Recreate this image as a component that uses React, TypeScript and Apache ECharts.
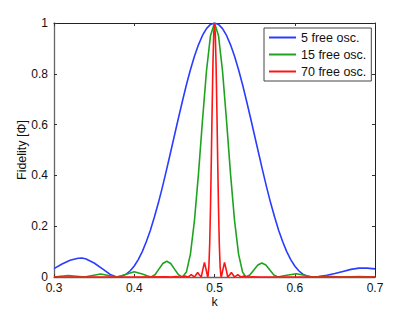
import React, { useEffect, useRef } from "react";
import * as echarts from "echarts";

const seriesNames = ["5 free osc.", "15 free osc.", "70 free osc."];
const seriesColors = ["#2a3dff", "#1fa31f", "#ff1414"];

// 5 free oscillators
const k5 = [
  0.3, 0.31, 0.32, 0.33, 0.335, 0.34, 0.35, 0.36, 0.37, 0.378, 0.385, 0.39, 0.395, 0.4, 0.405, 0.41,
  0.415, 0.42, 0.425, 0.43, 0.435, 0.44, 0.445, 0.45, 0.455, 0.46, 0.465, 0.47, 0.475, 0.48, 0.485,
  0.49, 0.495, 0.5, 0.505, 0.51, 0.515, 0.52, 0.525, 0.53, 0.535, 0.54, 0.545, 0.55, 0.555, 0.56,
  0.565, 0.57, 0.575, 0.58, 0.585, 0.59, 0.595, 0.6, 0.605, 0.61, 0.615, 0.622, 0.63, 0.64, 0.65,
  0.66, 0.67, 0.68, 0.69, 0.7,
];
const f5 = [
  0.033, 0.051, 0.066, 0.074, 0.075, 0.071, 0.055, 0.033, 0.01, 0.0, 0.0037, 0.0114, 0.0246, 0.0435,
  0.0686, 0.1, 0.139, 0.183, 0.235, 0.291, 0.353, 0.419, 0.487, 0.556, 0.625, 0.692, 0.757, 0.816,
  0.869, 0.914, 0.951, 0.978, 0.9945, 1.0, 0.9945, 0.978, 0.951, 0.914, 0.869, 0.816, 0.757, 0.692,
  0.625, 0.556, 0.487, 0.419, 0.353, 0.291, 0.235, 0.183, 0.139, 0.1, 0.0686, 0.0435, 0.0246, 0.0114,
  0.0037, 0.0, 0.002, 0.007, 0.014, 0.022, 0.03, 0.035, 0.035, 0.032,
];

// 15 free oscillators
const k15 = [
  0.3, 0.308, 0.318, 0.328, 0.338, 0.348, 0.358, 0.368, 0.378, 0.384, 0.39, 0.4, 0.41, 0.416, 0.421,
  0.4259, 0.4307, 0.4356, 0.4405, 0.4454, 0.4502, 0.4551, 0.46, 0.465, 0.47, 0.475, 0.48, 0.485, 0.49,
  0.495, 0.5, 0.505, 0.51, 0.515, 0.52, 0.525, 0.53, 0.535, 0.539, 0.544, 0.549, 0.554, 0.559, 0.564,
  0.569, 0.574, 0.579, 0.585, 0.59, 0.602, 0.612, 0.621, 0.64, 0.66, 0.68, 0.7,
];
const f15 = [
  0.0, 0.003, 0.006, 0.003, 0.0, 0.006, 0.012, 0.006, 0.0, 0.005, 0.011, 0.021, 0.012, 0.005, 0.0,
  0.009, 0.031, 0.053, 0.062, 0.053, 0.031, 0.009, 0.0, 0.0194, 0.09, 0.2215, 0.405, 0.615, 0.811, 0.95,
  1.0, 0.95, 0.811, 0.615, 0.405, 0.2215, 0.09, 0.0194, 0.0, 0.008, 0.0275, 0.047, 0.055, 0.047, 0.0275,
  0.008, 0.0, 0.004, 0.007, 0.013, 0.007, 0.0, 0.003, 0.0, 0.002, 0.0,
];

// 70 free oscillators
const k70 = [
  0.3, 0.4, 0.44, 0.446, 0.452, 0.456, 0.459, 0.461, 0.463, 0.465, 0.467, 0.469, 0.471, 0.473, 0.475,
  0.477, 0.479, 0.481, 0.4835, 0.4855, 0.4875, 0.4895, 0.4915, 0.492, 0.493, 0.494, 0.495, 0.496,
  0.497, 0.498, 0.499, 0.5, 0.501, 0.502, 0.503, 0.504, 0.505, 0.506, 0.507, 0.508, 0.5085, 0.5105,
  0.5125, 0.5145, 0.5165, 0.519, 0.521, 0.523, 0.525, 0.527, 0.529, 0.531, 0.533, 0.535, 0.537,
  0.539, 0.541, 0.548, 0.556, 0.6, 0.7,
];
const f70 = [
  0.0, 0.0, 0.001, 0.0, 0.002, 0.0, 0.0, 0.002, 0.004, 0.002, 0.0, 0.0045, 0.009, 0.0045, 0.0, 0.009,
  0.018, 0.009, 0.0, 0.03, 0.057, 0.03, 0.0, 0.0038, 0.0415, 0.129, 0.271, 0.454, 0.652, 0.83, 0.956,
  1.0, 0.956, 0.83, 0.652, 0.454, 0.271, 0.129, 0.0415, 0.0038, 0.0, 0.03, 0.057, 0.03, 0.0, 0.009,
  0.018, 0.009, 0.0, 0.0045, 0.009, 0.0045, 0.0, 0.002, 0.004, 0.002, 0.0, 0.001, 0.0, 0.0, 0.0,
];

const xMin = 0.3;
const xMax = 0.7;
const xStep = 0.1;
const yMin = 0;
const yMax = 1;
const yStep = 0.2;
const xTitle = "k";
const yTitle = "Fidelity [Φ]";

const FONT = "Liberation Sans, Arial, Helvetica, sans-serif";

export default function App() {
  const ref = useRef<HTMLDivElement>(null);

  useEffect(() => {
    document.body.style.margin = "0";
    if (!ref.current) return;
    const chart = echarts.init(ref.current, undefined, { renderer: "svg" });
    const ks = [k5, k15, k70];
    const fs = [f5, f15, f70];
    const series = seriesNames.map((name, i) => ({
      name,
      type: "line",
      data: ks[i].map((k, j) => [k, fs[i][j]]),
      showSymbol: false,
      symbol: "none",
      smooth: false,
      lineStyle: { color: seriesColors[i], width: 1.6 },
      itemStyle: { color: seriesColors[i] },
      clip: true,
      z: 2 + i,
    }));

    const tickStyle = { color: "#333", width: 1 };
    chart.setOption({
      animation: false,
      backgroundColor: "#ffffff",
      grid: { left: 54, right: 40, top: 23, bottom: 36, containLabel: false },
      legend: {
        orient: "vertical",
        left: 264,
        top: 28,
        padding: [3, 5, 3, 5],
        itemGap: 4,
        itemWidth: 27,
        itemHeight: 2,
        icon: "rect",
        backgroundColor: "#ffffff",
        borderColor: "#444",
        borderWidth: 1,
        borderRadius: 0,
        data: seriesNames,
        textStyle: { fontFamily: FONT, fontSize: 12.5, color: "#111", lineHeight: 12, padding: [0, 0, 0, 0] },
      },
      xAxis: [
        {
          type: "value",
          position: "bottom",
          min: xMin,
          max: xMax,
          interval: xStep,
          axisLine: { show: true, onZero: false, lineStyle: { color: "#666", width: 1.3 } },
          axisTick: { show: true, inside: true, length: 3, lineStyle: tickStyle },
          axisLabel: {
            margin: 5,
            fontSize: 12,
            fontFamily: FONT,
            color: "#111",
            showMaxLabel: true,
            showMinLabel: true,
            formatter: (v: number) => v.toFixed(1),
          },
          splitLine: { show: false },
          name: xTitle,
          nameLocation: "middle",
          nameGap: 18,
          nameMoveOverlap: false,
          nameTextStyle: { fontFamily: FONT, fontSize: 12.5, color: "#111" },
        },
        {
          type: "value",
          position: "top",
          min: xMin,
          max: xMax,
          interval: xStep,
          axisLine: { show: true, onZero: false, lineStyle: { color: "#222", width: 1 } },
          axisTick: { show: true, inside: true, length: 3, lineStyle: tickStyle },
          axisLabel: { show: false },
          splitLine: { show: false },
        },
      ],
      yAxis: [
        {
          type: "value",
          position: "left",
          min: yMin,
          max: yMax,
          interval: yStep,
          axisLine: { show: true, onZero: false, lineStyle: { color: "#666", width: 1.3 } },
          axisTick: { show: true, inside: true, length: 3, lineStyle: tickStyle },
          axisLabel: {
            margin: 6,
            fontSize: 12,
            fontFamily: FONT,
            color: "#111",
            formatter: (v: number) => (v === 0 ? "0" : v === 1 ? "1" : v.toFixed(1)),
          },
          splitLine: { show: false },
          name: yTitle,
          nameLocation: "middle",
          nameGap: 26,
          nameMoveOverlap: false,
          nameTextStyle: { fontFamily: FONT, fontSize: 12.5, color: "#111" },
        },
        {
          type: "value",
          position: "right",
          min: yMin,
          max: yMax,
          interval: yStep,
          axisLine: { show: true, onZero: false, lineStyle: { color: "#222", width: 1 } },
          axisTick: { show: true, inside: true, length: 3, lineStyle: tickStyle },
          axisLabel: { show: false },
          splitLine: { show: false },
        },
      ],
      series,
    });
    return () => chart.dispose();
  }, []);

  return <div ref={ref} style={{ width: 415, height: 313 }} />;
}
